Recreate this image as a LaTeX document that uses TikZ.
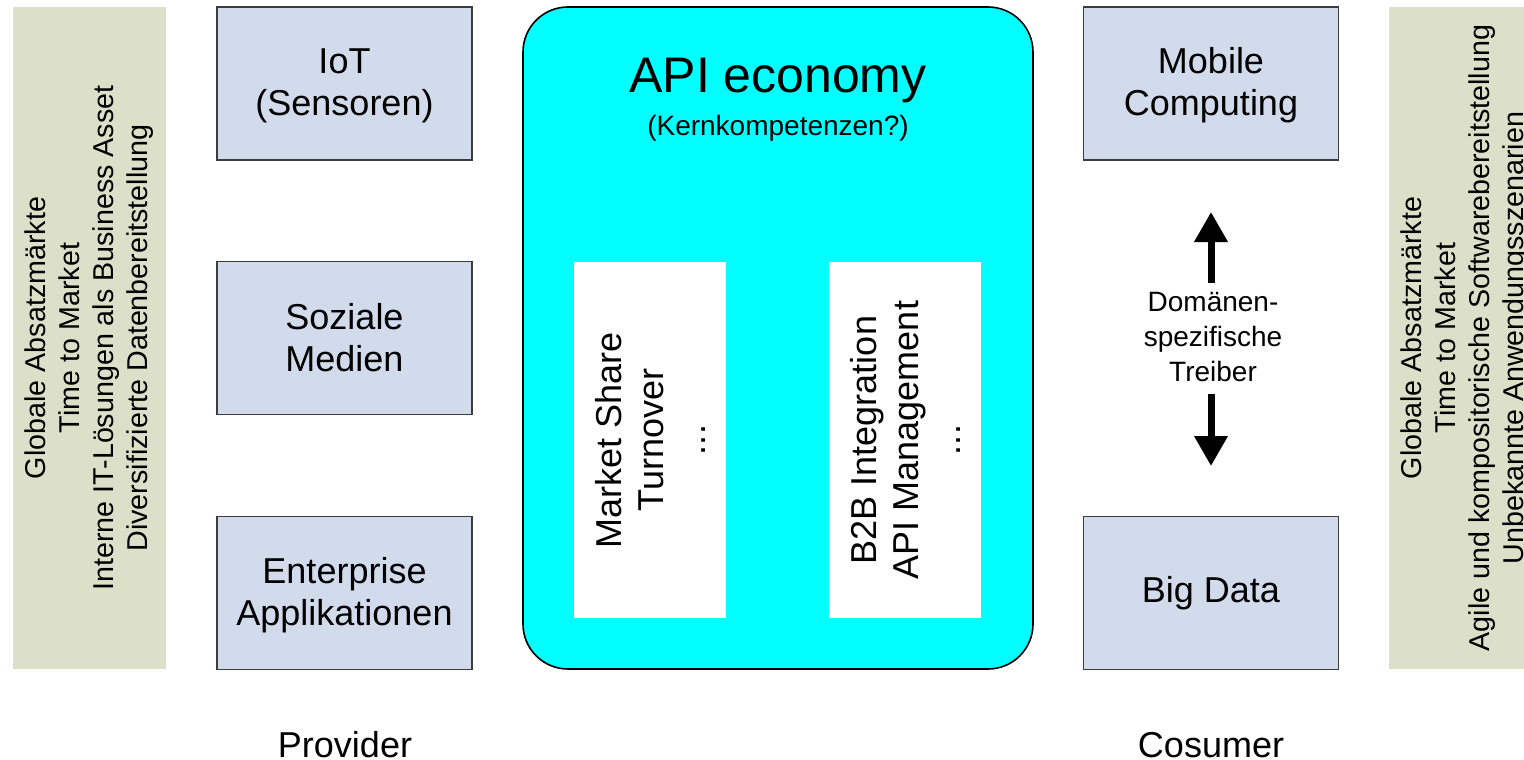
\documentclass[tikz,border=0pt]{standalone}
\usepackage{fontspec}
\setmainfont{Liberation Sans}
\usetikzlibrary{arrows.meta}
\definecolor{barcol}{RGB}{221,224,200}
\definecolor{boxcol}{RGB}{209,219,235}
\definecolor{edgecol}{RGB}{60,60,60}
\definecolor{corecol}{RGB}{0,255,255}
\tikzset{
  sidebar/.style={fill=barcol, draw=none, minimum width=114.75pt, minimum height=496.5pt, inner sep=0pt},
  bluebox/.style={fill=boxcol, draw=edgecol, line width=0.8pt, minimum width=191.25pt, minimum height=114.75pt, inner sep=0pt},
  corebox/.style={fill=corecol, draw=black, line width=1.2pt, rounded corners=33.75pt, minimum width=382.5pt, minimum height=496.5pt, inner sep=0pt},
  whitebox/.style={fill=white, draw=none, minimum width=114pt, minimum height=267pt, inner sep=0pt},
  bigtxt/.style={align=center, font=\fontsize{27pt}{31.5pt}\selectfont, inner sep=0pt},
  sidetxt/.style={align=center, rotate=90, font=\fontsize{21.5pt}{25.5pt}\selectfont, inner sep=0pt},
  smalltxt/.style={align=center, font=\fontsize{21pt}{26pt}\selectfont, inner sep=0pt},
  fatarrow/.style={line width=5.25pt, -{Triangle[width=24pt,length=22.5pt]}}
}
\begin{document}
\begin{tikzpicture}[x=0.75pt, y=-0.75pt]
\useasboundingbox (0,0) rectangle (1524,760);
\clip (0,0) rectangle (1524,760);
\fill[white] (0,0) rectangle (1524,760);

% side bars
\node[sidebar] (lbar) at (89.5,338) {};
\node[sidetxt] (lbart) at (lbar) {Globale Absatzmärkte\\Time to Market\\Interne IT-Lösungen als Business Asset\\Diversifizierte Datenbereitstellung};
\node[sidebar] (rbar) at (1465,338) {};
\node[sidetxt] (rbart) at (rbar) {Globale Absatzmärkte\\Time to Market\\Agile und kompositorische Softwarebereitstellung\\Unbekannte Anwendungsszenarien};

% provider boxes
\node[bluebox] (iot) at (344.5,83.5) {};
\node[bigtxt] (iott) at ([yshift=-1.5pt]iot.center) {IoT\\(Sensoren)};
\node[bluebox] (soz) at (344.5,338) {};
\node[bigtxt] (sozt) at (soz) {Soziale\\Medien};
\node[bluebox] (ent) at (344.5,593) {};
\node[bigtxt] (entt) at ([yshift=-1.5pt]ent.center) {Enterprise\\Applikationen};

% consumer boxes
\node[bluebox] (mob) at (1211,83.5) {};
\node[bigtxt] (mobt) at ([yshift=-1.5pt]mob.center) {Mobile\\Computing};
\node[bluebox] (big) at (1211,593) {};
\node[bigtxt] (bigt) at (big) {Big Data};

% core
\node[corebox] (core) at (778,338) {};
\node[inner sep=0pt, font=\fontsize{37.5pt}{40pt}\selectfont] (title) at (778,80) {API economy};
\node[inner sep=0pt, font=\fontsize{21pt}{24pt}\selectfont] (subtitle) at (778,128) {(Kernkompetenzen?)};
\node[whitebox] (w1) at (650,440) {};
\node[bigtxt, rotate=90] (w1t) at (w1) {Market Share\\Turnover\\...};
\node[whitebox] (w2) at (905,440) {};
\node[bigtxt, rotate=90] (w2t) at (w2) {B2B Integration\\API Management\\...};

% drivers
\node[smalltxt] (drv) at (1213,337) {Domänen-\\spezifische\\Treiber};
\coordinate (upS) at (1211,283);
\coordinate (upE) at (1211,212);
\coordinate (dnS) at (1211,394);
\coordinate (dnE) at (1211,466);
\draw[fatarrow] (upS) -- (upE);
\draw[fatarrow] (dnS) -- (dnE);

% bottom labels
\node[bigtxt] (prov) at (345,745) {Provider};
\node[bigtxt] (cons) at (1211,745) {Cosumer};
\end{tikzpicture}
\end{document}
